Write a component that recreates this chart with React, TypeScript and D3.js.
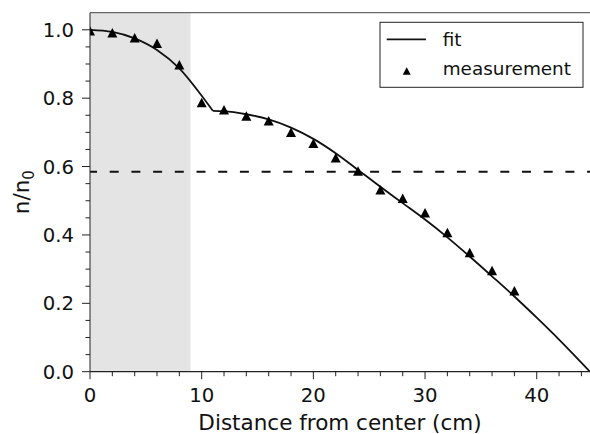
import React from 'react';
import * as d3 from 'd3';

const measX = [0, 2, 4, 6, 8, 10, 12, 14, 16, 18, 20, 22, 24, 26, 28, 30, 32, 34, 36, 38];
const measY = [0.997, 0.991, 0.977, 0.961, 0.898, 0.787, 0.766, 0.748, 0.734, 0.70, 0.668, 0.626, 0.587, 0.532, 0.507, 0.465, 0.407, 0.349, 0.296, 0.237];

const fitInnerX = [0, 2, 4, 6, 8, 10, 11];
const fitInnerY = [1.0, 0.994, 0.975, 0.941, 0.887, 0.807, 0.763];
const fitOuterX = [11, 12, 14, 16, 18, 20, 22, 24, 26, 28, 30, 32, 34, 36, 38, 40, 42, 44.77];
const fitOuterY = [0.763, 0.762, 0.753, 0.738, 0.714, 0.681, 0.639, 0.590, 0.541, 0.493, 0.445, 0.393, 0.337, 0.279, 0.220, 0.158, 0.094, 0.0];

const shadeRange = [0, 9];
const threshold = 0.585;

const xMajor = [0, 10, 20, 30, 40];
const xMinor = [2, 4, 6, 8, 12, 14, 16, 18, 22, 24, 26, 28, 32, 34, 36, 38, 42, 44];
const yMajor = [0, 0.2, 0.4, 0.6, 0.8, 1.0];
const yMinor = [0.05, 0.1, 0.15, 0.25, 0.3, 0.35, 0.45, 0.5, 0.55, 0.65, 0.7, 0.75, 0.85, 0.9, 0.95];

const xLabel = 'Distance from center (cm)';
const legendLabels = ['fit', 'measurement'];

const W = 590, H = 434;
const L = 90, R = 590, T = 12.7, B = 371.7;
const FONT = 'DejaVu Sans, sans-serif';

export default function App() {
  const x = d3.scaleLinear().domain([0, 44.77]).range([L, R]);
  const y = d3.scaleLinear().domain([0, 1.05]).range([B, T]);

  const line = d3.line<[number, number]>()
    .x(d => x(d[0]))
    .y(d => y(d[1]))
    .curve(d3.curveMonotoneX);

  const inner = fitInnerX.map((v, i) => [v, fitInnerY[i]] as [number, number]);
  const outer = fitOuterX.map((v, i) => [v, fitOuterY[i]] as [number, number]);

  const tri = (cx: number, cy: number, w = 10, h = 9.5) =>
    `M${cx},${cy - h / 2}L${cx - w / 2},${cy + h / 2}L${cx + w / 2},${cy + h / 2}Z`;

  return (
    <svg width={W} height={H} style={{ position: 'absolute', left: 0, top: 0, background: '#fff' }}
      fontFamily={FONT}>
      <defs>
        <clipPath id="plot"><rect x={L} y={T} width={R - L} height={B - T} /></clipPath>
      </defs>
      <rect x={x(shadeRange[0])} y={T} width={x(shadeRange[1]) - x(shadeRange[0])} height={B - T} fill="#e4e4e4" />
      <g clipPath="url(#plot)">
        <line x1={x(0)} x2={x(44.77)} y1={y(threshold)} y2={y(threshold)} stroke="#111" strokeWidth={2}
          strokeDasharray="9 12.7" strokeDashoffset={2} />
        <path d={line(inner) || ''} fill="none" stroke="#111" strokeWidth={1.8} />
        <path d={line(outer) || ''} fill="none" stroke="#111" strokeWidth={1.8} />
        {measX.map((v, i) => (
          <path key={i} d={tri(x(v), y(measY[i]))} fill="#000" />
        ))}
      </g>
      {/* spines */}
      <line x1={L} x2={L} y1={T} y2={B} stroke="#222" strokeWidth={1} />
      <line x1={L} x2={R} y1={B} y2={B} stroke="#222" strokeWidth={1.2} />
      <line x1={L} x2={R} y1={T} y2={T} stroke="#444" strokeWidth={1} />
      {/* x ticks */}
      {xMajor.map(v => (
        <g key={'xm' + v}>
          <line x1={x(v)} x2={x(v)} y1={B} y2={B + 7.5} stroke="#222" strokeWidth={1} />
          <text x={x(v)} y={402} textAnchor="middle" fontSize={19.7} fill="#111">{v}</text>
        </g>
      ))}
      {xMinor.map(v => (
        <line key={'xn' + v} x1={x(v)} x2={x(v)} y1={B} y2={B + 4.5} stroke="#222" strokeWidth={1} />
      ))}
      {/* y ticks */}
      {yMajor.map(v => (
        <g key={'ym' + v}>
          <line x1={L} x2={L - 8} y1={y(v)} y2={y(v)} stroke="#222" strokeWidth={1} />
          <text x={74} y={y(v)} dy="0.36em" textAnchor="end" fontSize={19.7} fill="#111">{d3.format('.1f')(v)}</text>
        </g>
      ))}
      {yMinor.map(v => (
        <line key={'yn' + v} x1={L} x2={L - 4.5} y1={y(v)} y2={y(v)} stroke="#222" strokeWidth={1} />
      ))}
      {/* axis labels */}
      <text x={(L + R) / 2} y={429.5} textAnchor="middle" fontSize={21.5} fill="#111">{xLabel}</text>
      <text transform={`translate(29,${(T + B) / 2}) rotate(-90)`} textAnchor="middle" fontSize={21.5} fill="#111">
        n/n<tspan fontSize={15} dy={5}>0</tspan>
      </text>
      {/* legend */}
      <rect x={380} y={22.3} width={203} height={65} fill="#fff" stroke="#222" strokeWidth={1} />
      <line x1={386.7} x2={426} y1={39.3} y2={39.3} stroke="#111" strokeWidth={1.8} />
      <text x={442.7} y={45.5} fontSize={18.4} fill="#111">{legendLabels[0]}</text>
      <path d={tri(406.7, 71, 8, 7.5)} fill="#000" />
      <text x={442.7} y={75} fontSize={18.4} fill="#111">{legendLabels[1]}</text>
    </svg>
  );
}
